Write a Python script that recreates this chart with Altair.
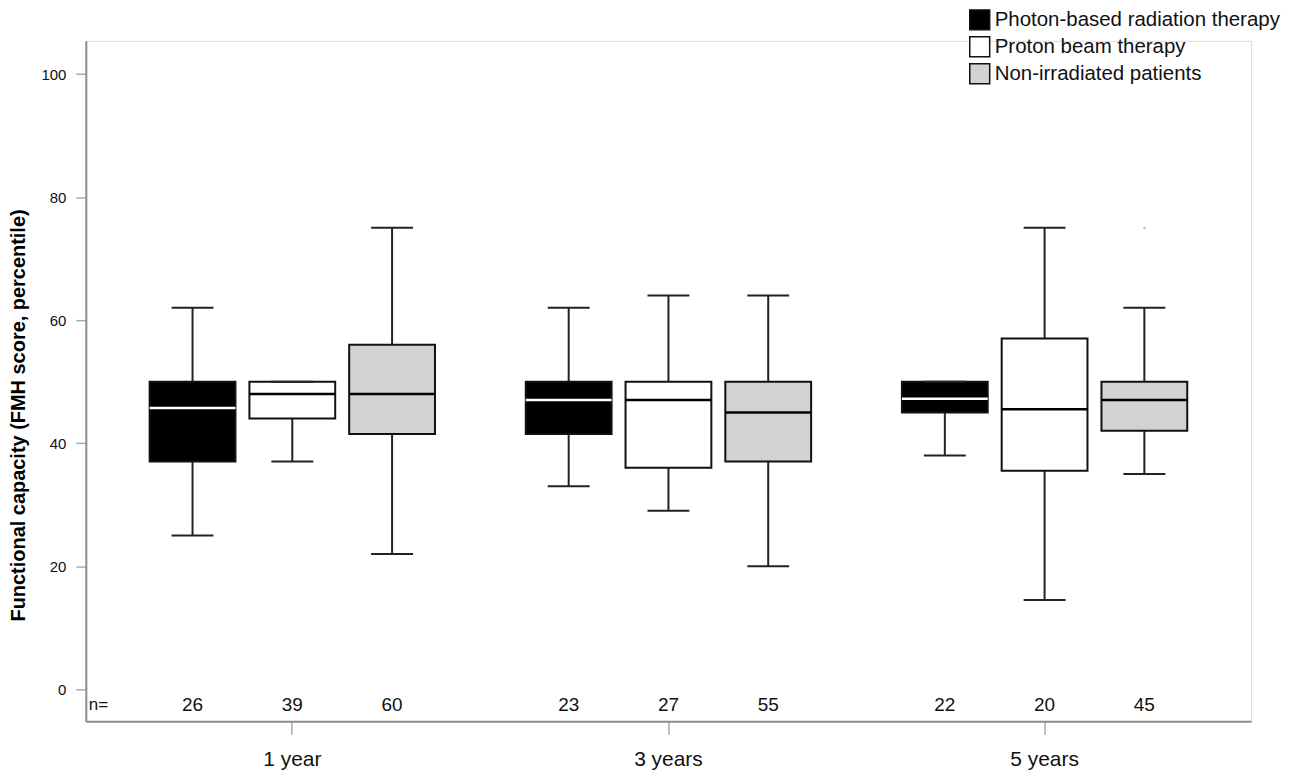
import altair as alt
import pandas as pd

times = ["1 year"] * 3 + ["3 years"] * 3 + ["5 years"] * 3
groups_order = ["Photon-based radiation therapy", "Proton beam therapy", "Non-irradiated patients"]
groups = groups_order * 3
lower = [25, 37, 22, 33, 29, 20, 38, 14.5, 35]
q1 = [37, 44, 41.5, 41.5, 36, 37, 45, 35.5, 42]
median = [45.7, 48, 48, 47, 47, 45, 47.2, 45.5, 47]
q3 = [50, 50, 56, 50, 50, 50, 50, 57, 50]
upper = [62, 50, 75, 62, 64, 64, 50, 75, 62]
n_counts = [26, 39, 60, 23, 27, 55, 22, 20, 45]

outlier_time = ["5 years"]
outlier_group = ["Non-irradiated patients"]
outlier_value = [75]

fills = ["#000000", "#ffffff", "#d2d2d2"]

df = pd.DataFrame({
    "time": times, "group": groups, "lower": lower, "q1": q1,
    "median": median, "q3": q3, "upper": upper, "n": [str(v) for v in n_counts],
})
out_df = pd.DataFrame({"time": outlier_time, "group": outlier_group, "value": outlier_value})

x_enc = alt.X("time:N", sort=["1 year", "3 years", "5 years"],
              scale=alt.Scale(paddingInner=0, paddingOuter=0.049),
              axis=alt.Axis(title=None, labelAngle=0, labelFontSize=21, labelColor="#111",
                            labelPadding=14, tickSize=13, tickColor="#aaa", tickWidth=1.5,
                            ticks=True, domainColor="#8c8c8c", domainWidth=2,
                            labelFont="Liberation Sans"))
xo_enc = alt.XOffset("group:N", sort=groups_order,
                     scale=alt.Scale(range=[38.5, 338.5], paddingInner=0, paddingOuter=0))
y_scale = alt.Scale(domain=[-5.2, 105.4], nice=False, zero=False)

base = alt.Chart(df)

whisk = base.mark_rule(color="#222", strokeWidth=2).encode(
    x=x_enc, xOffset=xo_enc,
    y=alt.Y("lower:Q", scale=y_scale,
            axis=alt.Axis(title="Functional capacity (FMH score, percentile)",
                          values=[0, 20, 40, 60, 80, 100], grid=False,
                          labelFontSize=15, labelColor="#111", labelPadding=10,
                          tickSize=10, tickColor="#aaa", tickWidth=1.5,
                          domainColor="#8c8c8c", domainWidth=2,
                          titleFont="Liberation Sans", titleFontSize=20,
                          titleFontWeight="bold", titleColor="#000", titlePadding=12,
                          titleY=375)),
    y2="upper:Q",
)

box = base.mark_bar(width=86, stroke="#111", strokeWidth=2).encode(
    x=x_enc, xOffset=xo_enc,
    y=alt.Y("q1:Q", scale=y_scale),
    y2="q3:Q",
    fill=alt.Fill("group:N", sort=groups_order,
                  scale=alt.Scale(domain=groups_order, range=fills),
                  legend=alt.Legend(title=None, orient="none", legendX=885, legendY=-32,
                                    symbolType="square", symbolSize=400,
                                    symbolStrokeColor="#111", symbolStrokeWidth=1.5,
                                    labelFontSize=20.5, labelColor="#111", labelOffset=4,
                                    rowPadding=1, labelFont="Liberation Sans",
                                    labelLimit=400)),
)

med = base.mark_tick(size=86, thickness=2.5, opacity=1).encode(
    x=x_enc, xOffset=xo_enc,
    y=alt.Y("median:Q", scale=y_scale),
    color=alt.condition(alt.datum.group == groups_order[0], alt.value("#ffffff"), alt.value("#000000")),
)

cap_lo = base.mark_tick(size=42, thickness=2, color="#222", opacity=1).encode(
    x=x_enc, xOffset=xo_enc, y=alt.Y("lower:Q", scale=y_scale))
cap_hi = base.mark_tick(size=42, thickness=2, color="#222", opacity=1).encode(
    x=x_enc, xOffset=xo_enc, y=alt.Y("upper:Q", scale=y_scale))

outl = alt.Chart(out_df).mark_point(shape="circle", size=6, color="#bbbbbb", filled=True, opacity=1).encode(
    x=x_enc, xOffset=xo_enc, y=alt.Y("value:Q", scale=y_scale))

ntext = base.mark_text(fontSize=19, color="#111", font="Liberation Sans").encode(
    x=x_enc, xOffset=xo_enc, y=alt.value(666), text="n:N")

nlabel = alt.Chart(pd.DataFrame({"t": ["n="]})).mark_text(
    fontSize=17, color="#111", align="left", font="Liberation Sans").encode(
    x=alt.value(3), y=alt.value(666), text="t:N")

chart = alt.layer(whisk, box, med, cap_lo, cap_hi, outl, ntext, nlabel).properties(
    width=1168, height=682,
    autosize=alt.AutoSizeParams(type="none"),
    padding={"left": 78, "top": 32, "right": 40, "bottom": 50},
).configure_view(stroke=None).configure(font="Liberation Sans")

chart.save("out.html", embed_options={"renderer": "svg", "actions": False})
